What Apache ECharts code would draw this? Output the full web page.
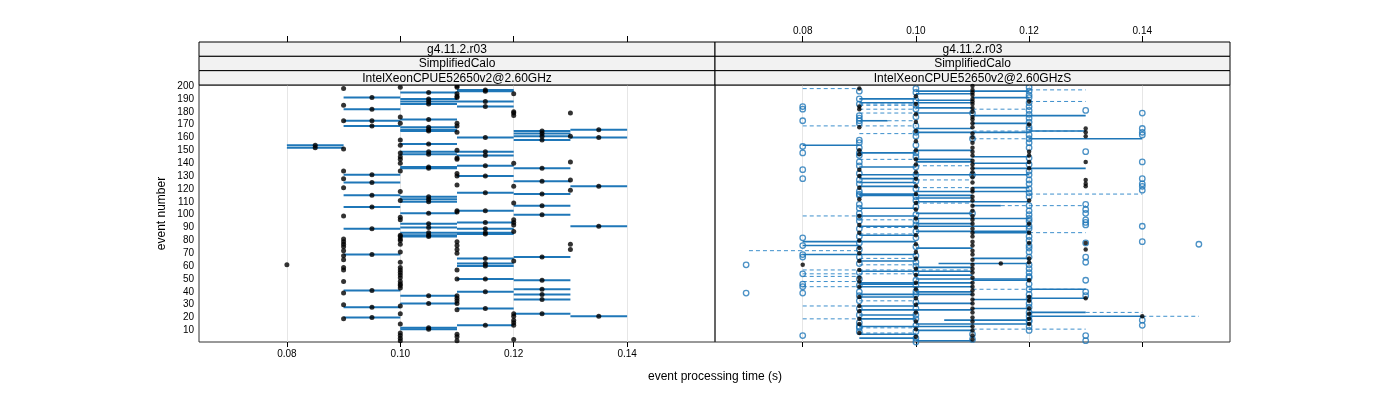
<!DOCTYPE html>
<html><head><meta charset="utf-8">
<script src="https://cdn.jsdelivr.net/npm/echarts@6/dist/echarts.min.js"></script>
<style>html,body{margin:0;padding:0;background:#fff}#c{width:1400px;height:400px}</style>
</head><body><div id="c"></div>
<script>
// ---------- tick labels ----------
const xTicks = [0.08, 0.10, 0.12, 0.14];
const yTicks = [10,20,30,40,50,60,70,80,90,100,110,120,130,140,150,160,170,180,190,200];
const stripLeft = ["g4.11.2.r03", "SimplifiedCalo", "IntelXeonCPUE52650v2@2.60GHz"];
const stripRight = ["g4.11.2.r03", "SimplifiedCalo", "IntelXeonCPUE52650v2@2.60GHzS"];

// ---------- left panel: mean time per event ----------
const leftEvent = [61,154,152,
 198,185,173,151,134,128,121,99,81,79,77,75,72,68,65,59,57,48,39,30,19,
 191,182,173,169,131,125,115,106,89,69,41,28,20,
 199,176,171,158,154,148,145,143,140,134,118,111,98,96,84,83,81,80,77,71,63,59,57,55,53,51,48,46,45,43,29,23,15,8,6,4,2,
 195,190,188,186,174,168,166,165,155,149,147,137,136,114,112,110,101,93,90,86,84,83,37,31,12,11,
 200,199,194,192,191,171,169,164,150,144,143,132,130,123,103,102,79,76,73,70,57,50,37,35,33,31,26,7,5,2,
 197,196,188,184,160,149,146,138,130,117,103,94,89,86,85,66,62,60,50,40,27,14,
 194,180,179,177,140,122,109,96,94,92,87,64,23,21,18,16,14,3,
 165,163,161,158,136,126,116,107,100,67,49,42,38,34,23,
 179,161,141,127,119,77,73,
 166,160,122,91,21];
const leftTime = [0.08,0.085,0.085,
 0.09,0.09,0.09,0.09,0.09,0.09,0.09,0.09,0.09,0.09,0.09,0.09,0.09,0.09,0.09,0.09,0.09,0.09,0.09,0.09,0.09,
 0.095,0.095,0.095,0.095,0.095,0.095,0.095,0.095,0.095,0.095,0.095,0.095,0.095,
 0.10,0.10,0.10,0.10,0.10,0.10,0.10,0.10,0.10,0.10,0.10,0.10,0.10,0.10,0.10,0.10,0.10,0.10,0.10,0.10,0.10,0.10,0.10,0.10,0.10,0.10,0.10,0.10,0.10,0.10,0.10,0.10,0.10,0.10,0.10,0.10,0.10,
 0.105,0.105,0.105,0.105,0.105,0.105,0.105,0.105,0.105,0.105,0.105,0.105,0.105,0.105,0.105,0.105,0.105,0.105,0.105,0.105,0.105,0.105,0.105,0.105,0.105,0.105,
 0.11,0.11,0.11,0.11,0.11,0.11,0.11,0.11,0.11,0.11,0.11,0.11,0.11,0.11,0.11,0.11,0.11,0.11,0.11,0.11,0.11,0.11,0.11,0.11,0.11,0.11,0.11,0.11,0.11,0.11,
 0.115,0.115,0.115,0.115,0.115,0.115,0.115,0.115,0.115,0.115,0.115,0.115,0.115,0.115,0.115,0.115,0.115,0.115,0.115,0.115,0.115,0.115,
 0.12,0.12,0.12,0.12,0.12,0.12,0.12,0.12,0.12,0.12,0.12,0.12,0.12,0.12,0.12,0.12,0.12,0.12,
 0.125,0.125,0.125,0.125,0.125,0.125,0.125,0.125,0.125,0.125,0.125,0.125,0.125,0.125,0.125,
 0.13,0.13,0.13,0.13,0.13,0.13,0.13,
 0.135,0.135,0.135,0.135,0.135];
// ---------- left panel: min-max range of the runs (events whose runs differ) ----------
const leftRangeEvent = [154,152,
 191,182,173,169,131,125,115,106,89,69,41,28,20,
 195,190,188,186,174,168,166,165,155,149,147,137,136,114,112,110,101,93,90,86,84,83,37,31,12,11,
 197,196,188,184,160,149,146,138,130,117,103,94,89,86,85,66,62,60,50,40,27,14,
 165,163,161,158,136,126,116,107,100,67,49,42,38,34,23,
 166,160,122,91,21];
const leftRangeLow = [0.08,0.08,
 0.09,0.09,0.09,0.09,0.09,0.09,0.09,0.09,0.09,0.09,0.09,0.09,0.09,
 0.10,0.10,0.10,0.10,0.10,0.10,0.10,0.10,0.10,0.10,0.10,0.10,0.10,0.10,0.10,0.10,0.10,0.10,0.10,0.10,0.10,0.10,0.10,0.10,0.10,0.10,
 0.11,0.11,0.11,0.11,0.11,0.11,0.11,0.11,0.11,0.11,0.11,0.11,0.11,0.11,0.11,0.11,0.11,0.11,0.11,0.11,0.11,0.11,
 0.12,0.12,0.12,0.12,0.12,0.12,0.12,0.12,0.12,0.12,0.12,0.12,0.12,0.12,0.12,
 0.13,0.13,0.13,0.13,0.13];
const leftRangeHigh = [0.09,0.09,
 0.10,0.10,0.10,0.10,0.10,0.10,0.10,0.10,0.10,0.10,0.10,0.10,0.10,
 0.11,0.11,0.11,0.11,0.11,0.11,0.11,0.11,0.11,0.11,0.11,0.11,0.11,0.11,0.11,0.11,0.11,0.11,0.11,0.11,0.11,0.11,0.11,0.11,0.11,0.11,
 0.12,0.12,0.12,0.12,0.12,0.12,0.12,0.12,0.12,0.12,0.12,0.12,0.12,0.12,0.12,0.12,0.12,0.12,0.12,0.12,0.12,0.12,
 0.13,0.13,0.13,0.13,0.13,0.13,0.13,0.13,0.13,0.13,0.13,0.13,0.13,0.13,0.13,
 0.14,0.14,0.14,0.14,0.14];

// ---------- right panel ----------
const rDotEvent = [61,
 198,184,182,168,150,147,135,130,121,112,99,92,86,80,74,70,64,57,51,48,44,36,29,25,19,15,8,
 192,186,178,172,165,157,150,143,139,133,128,122,116,109,104,97,90,84,77,71,66,58,53,47,42,35,30,24,17,11,5,
 200,197,195,193,190,188,186,183,180,176,174,171,168,163,160,156,152,149,146,142,139,136,133,129,125,120,118,114,111,107,103,99,96,93,89,86,83,79,76,72,69,65,61,58,55,51,47,44,41,38,34,31,27,24,20,17,13,10,6,3,
 62,
 188,170,149,146,141,136,111,93,86,78,66,63,49,36,33,27,23,19,15,
 167,164,161,141,127,124,122,78,73,35,
 21];
const rDotTime = [0.08,
 0.09,0.09,0.09,0.09,0.09,0.09,0.09,0.09,0.09,0.09,0.09,0.09,0.09,0.09,0.09,0.09,0.09,0.09,0.09,0.09,0.09,0.09,0.09,0.09,0.09,0.09,0.09,
 0.10,0.10,0.10,0.10,0.10,0.10,0.10,0.10,0.10,0.10,0.10,0.10,0.10,0.10,0.10,0.10,0.10,0.10,0.10,0.10,0.10,0.10,0.10,0.10,0.10,0.10,0.10,0.10,0.10,0.10,0.10,
 0.11,0.11,0.11,0.11,0.11,0.11,0.11,0.11,0.11,0.11,0.11,0.11,0.11,0.11,0.11,0.11,0.11,0.11,0.11,0.11,0.11,0.11,0.11,0.11,0.11,0.11,0.11,0.11,0.11,0.11,0.11,0.11,0.11,0.11,0.11,0.11,0.11,0.11,0.11,0.11,0.11,0.11,0.11,0.11,0.11,0.11,0.11,0.11,0.11,0.11,0.11,0.11,0.11,0.11,0.11,0.11,0.11,0.11,0.11,0.11,
 0.115,
 0.12,0.12,0.12,0.12,0.12,0.12,0.12,0.12,0.12,0.12,0.12,0.12,0.12,0.12,0.12,0.12,0.12,0.12,0.12,
 0.13,0.13,0.13,0.13,0.13,0.13,0.13,0.13,0.13,0.13,
 0.14];
const rRingEvent = [61,39,
 184,182,173,153,148,135,128,82,76,69,67,54,46,44,39,6,
 196,190,186,177,175,173,171,158,156,152,148,146,141,138,132,127,124,118,116,115,108,105,101,98,95,89,83,78,73,67,62,55,50,45,40,37,33,27,22,16,13,12,9,4,1,
 198,195,189,185,182,176,169,164,161,154,148,145,137,131,126,120,114,111,106,100,95,92,87,82,75,68,63,60,55,49,45,40,38,32,27,22,19,14,9,7,3,
 179,159,131,101,52,18,
 199,196,193,191,187,184,181,178,175,172,168,166,162,159,156,152,144,139,134,131,127,124,120,117,114,107,103,100,97,95,91,89,83,80,76,74,71,67,61,58,55,51,46,42,38,35,31,28,24,21,17,13,10,6,2,
 181,149,108,104,101,96,94,92,78,67,63,49,40,37,18,14,
 179,167,164,162,141,128,124,122,119,91,79,77,73,
 122];
const rRingTime = [0.07,0.07,
 0.08,0.08,0.08,0.08,0.08,0.08,0.08,0.08,0.08,0.08,0.08,0.08,0.08,0.08,0.08,0.08,
 0.09,0.09,0.09,0.09,0.09,0.09,0.09,0.09,0.09,0.09,0.09,0.09,0.09,0.09,0.09,0.09,0.09,0.09,0.09,0.09,0.09,0.09,0.09,0.09,0.09,0.09,0.09,0.09,0.09,0.09,0.09,0.09,0.09,0.09,0.09,0.09,0.09,0.09,0.09,0.09,0.09,0.09,0.09,
 0.10,0.10,0.10,0.10,0.10,0.10,0.10,0.10,0.10,0.10,0.10,0.10,0.10,0.10,0.10,0.10,0.10,0.10,0.10,0.10,0.10,0.10,0.10,0.10,0.10,0.10,0.10,0.10,0.10,0.10,0.10,0.10,0.10,0.10,0.10,0.10,0.10,0.10,0.10,0.10,0.10,
 0.11,0.11,0.11,0.11,0.11,0.11,
 0.12,0.12,0.12,0.12,0.12,0.12,0.12,0.12,0.12,0.12,0.12,0.12,0.12,0.12,0.12,0.12,0.12,0.12,0.12,0.12,0.12,0.12,0.12,0.12,0.12,0.12,0.12,0.12,0.12,0.12,0.12,0.12,0.12,0.12,0.12,0.12,0.12,0.12,0.12,0.12,0.12,0.12,0.12,0.12,0.12,0.12,0.12,0.12,0.12,0.12,0.12,0.12,0.12,0.12,0.12,
 0.13,0.13,0.13,0.13,0.13,0.13,0.13,0.13,0.13,0.13,0.13,0.13,0.13,0.13,0.13,0.13,
 0.14,0.14,0.14,0.14,0.14,0.14,0.14,0.14,0.14,0.14,0.14,0.14,0.14,
 0.15];
const rSolidEvent = [196,194,191,190,189,187,183,179,177,173,171,167,165,164,159,154,150,148,145,143,141,140,137,136,131,128,125,122,121,118,116,115,113,110,107,105,101,99,97,93,91,87,86,84,79,76,74,69,66,64,62,59,56,53,50,49,47,46,44,42,40,38,36,35,34,31,29,27,26,24,22,21,19,18,15,13,10,7,4,2];
const rSolidFrom = [0.10,0.10,0.11,0.09,0.10,0.09,0.10,0.10,0.11,0.09,0.11,0.10,0.12,0.10,0.12,0.08,0.10,0.09,0.11,0.10,0.10,0.11,0.09,0.11,0.09,0.09,0.09,0.09,0.11,0.10,0.09,0.09,0.10,0.10,0.11,0.09,0.10,0.09,0.10,0.10,0.09,0.10,0.11,0.09,0.08,0.08,0.10,0.08,0.11,0.09,0.104,0.10,0.09,0.10,0.10,0.11,0.09,0.09,0.09,0.12,0.10,0.09,0.09,0.12,0.11,0.10,0.09,0.11,0.09,0.12,0.09,0.12,0.09,0.105,0.10,0.09,0.10,0.09,0.09,0.10];
const rSolidTo = [0.12,0.11,0.12,0.10,0.11,0.11,0.11,0.11,0.13,0.095,0.12,0.11,0.13,0.12,0.14,0.09,0.11,0.10,0.12,0.11,0.11,0.12,0.10,0.13,0.12,0.10,0.10,0.10,0.12,0.12,0.10,0.11,0.11,0.12,0.115,0.10,0.11,0.10,0.12,0.11,0.12,0.12,0.12,0.10,0.10,0.09,0.11,0.10,0.12,0.10,0.12,0.11,0.11,0.11,0.12,0.12,0.11,0.10,0.11,0.13,0.11,0.11,0.10,0.13,0.12,0.11,0.10,0.12,0.11,0.13,0.10,0.14,0.10,0.12,0.12,0.11,0.11,0.10,0.10,0.11];
const rDashEvent = [198,197,188,186,185,182,182,179,173,169,165,163,159,143,138,127,121,116,109,107,99,96,90,86,85,72,66,61,57,54,52,48,44,42,33,29,24,21,19,12,11,8,7];
const rDashFrom = [0.08,0.12,0.12,0.09,0.09,0.09,0.11,0.09,0.095,0.08,0.11,0.09,0.11,0.09,0.10,0.10,0.10,0.12,0.10,0.115,0.08,0.09,0.09,0.12,0.09,0.0705,0.09,0.09,0.08,0.08,0.08,0.08,0.08,0.11,0.09,0.08,0.13,0.14,0.08,0.09,0.11,0.09,0.09];
const rDashTo = [0.09,0.13,0.13,0.10,0.10,0.10,0.12,0.10,0.10,0.10,0.13,0.10,0.12,0.10,0.11,0.11,0.11,0.14,0.11,0.13,0.09,0.10,0.10,0.13,0.10,0.09,0.10,0.10,0.11,0.10,0.09,0.09,0.09,0.13,0.10,0.09,0.14,0.15,0.09,0.10,0.13,0.10,0.10];

// ---------- styling ----------
const BLUE = '#1f77b8';
const FONT = '"Liberation Sans", Arial, sans-serif';
const X_MIN = 0.0645, X_MAX = 0.1555, Y_MIN = 1, Y_MAX = 200.8;
const G = [{left:199, top:85, width:516, height:257}, {left:715, top:85, width:515, height:257}];
const STRIP_TOP = 42, STRIP_H = 14.33;

function segSeries(name, xi, yi, ev, from, to, style, z) {
  return {
    type:'custom', name, xAxisIndex:xi, yAxisIndex:yi, z, silent:true, clip:true,
    data: ev.map((e,i) => [e, from[i], to[i]]),
    encode:{x:[1,2], y:0},
    renderItem(params, api) {
      const p1 = api.coord([api.value(1), api.value(0)]);
      const p2 = api.coord([api.value(2), api.value(0)]);
      return {type:'line', shape:{x1:p1[0], y1:p1[1], x2:p2[0], y2:p2[1]}, style};
    }
  };
}

const xAxes = [];
const yAxes = [];
[0,1].forEach(g => {
  xAxes.push({type:'value', gridIndex:g, position:'bottom', min:X_MIN, max:X_MAX,
    splitLine:{show:true, lineStyle:{color:'#e6e6e6', width:1}, customValues: xTicks},
    axisLine:{show:false},
    axisTick:{show:true, length:5, customValues:xTicks, lineStyle:{color:'#000'}},
    axisLabel:{show: g===0, customValues:xTicks, formatter:v=>v.toFixed(2), fontSize:10, color:'#000', fontFamily:FONT, margin:7}
  });
  xAxes.push({type:'value', gridIndex:g, position:'top', offset: 43, min:X_MIN, max:X_MAX,
    splitLine:{show:false}, axisLine:{show:false},
    axisTick:{show:true, length:6, customValues:xTicks, lineStyle:{color:'#000'}},
    axisLabel:{show: g===1, customValues:xTicks, formatter:v=>v.toFixed(2), fontSize:10, color:'#000', fontFamily:FONT, margin:6}
  });
  yAxes.push({type:'value', gridIndex:g, min:Y_MIN, max:Y_MAX,
    splitLine:{show:false}, axisLine:{show:false},
    axisTick:{show:false},
    axisLabel:{show: g===0, customValues:yTicks, fontSize:10, color:'#000', fontFamily:FONT, margin:5},
    name: g===0 ? 'event number' : '', nameLocation:'middle', nameGap:31, nameRotate:90,
    nameTextStyle:{fontSize:12, color:'#000', fontFamily:FONT}
  });
});

const graphics = [];
[[G[0], stripLeft], [G[1], stripRight]].forEach(([g, texts]) => {
  texts.forEach((t, i) => {
    graphics.push({type:'rect', shape:{x:g.left, y:STRIP_TOP + i*STRIP_H, width:g.width, height:STRIP_H},
      style:{fill:'#f2f2f2', stroke:'#000', lineWidth:1}, z:5});
    graphics.push({type:'text', x:g.left + g.width/2, y:STRIP_TOP + i*STRIP_H + STRIP_H/2 + 0.5,
      style:{text:t, fontSize:12, fontFamily:FONT, fill:'#000', align:'center', verticalAlign:'middle'}, z:6});
  });
});
graphics.push({type:'text', x:715, y:377, style:{text:'event processing time (s)', fontSize:12, fontFamily:FONT, fill:'#000', align:'center', verticalAlign:'middle'}});

const series = [
  segSeries('left range', 0, 0, leftRangeEvent, leftRangeLow, leftRangeHigh, {stroke:BLUE, lineWidth:2}, 2),
  {type:'scatter', name:'left mean', xAxisIndex:0, yAxisIndex:0, z:4, symbolSize:5, silent:true,
    itemStyle:{color:'#000'}, data: leftEvent.map((e,i) => [leftTime[i], e])},
  segSeries('right dashed', 2, 1, rDashEvent, rDashFrom, rDashTo, {stroke:'#3d8fcc', lineWidth:1, lineDash:[4,3]}, 2),
  segSeries('right solid', 2, 1, rSolidEvent, rSolidFrom, rSolidTo, {stroke:BLUE, lineWidth:1.6}, 3),
  {type:'scatter', name:'right runs', xAxisIndex:2, yAxisIndex:1, z:4, symbolSize:5.5, silent:true,
    itemStyle:{color:'rgba(0,0,0,0)', borderColor:BLUE, borderWidth:1.3}, data: rRingEvent.map((e,i) => [rRingTime[i], e])},
  {type:'scatter', name:'right mean', xAxisIndex:2, yAxisIndex:1, z:5, symbolSize:4.5, silent:true,
    itemStyle:{color:'#000'}, data: rDotEvent.map((e,i) => [rDotTime[i], e])}
];

const chart = echarts.init(document.getElementById('c'), null, {renderer:'canvas'});
chart.setOption({
  animation:false,
  backgroundColor:'#fff',
  grid: G.map(g => Object.assign({show:true, borderColor:'#333', borderWidth:1, backgroundColor:'transparent'}, g)),
  xAxis: xAxes,
  yAxis: yAxes,
  graphic: graphics,
  series
});
</script>
</body></html>
